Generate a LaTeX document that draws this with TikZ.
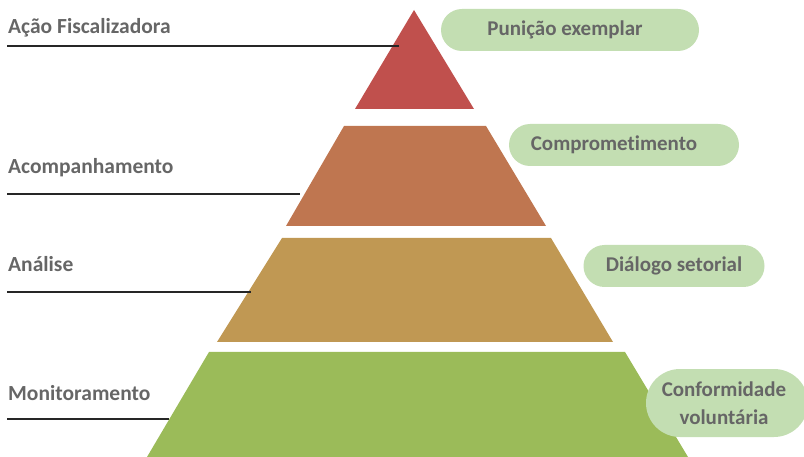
\documentclass[tikz,border=0pt]{standalone}
\usepackage{fontspec}
\setmainfont{Carlito}[Ligatures={NoCommon,NoRare}]
\usetikzlibrary{positioning}

\definecolor{tierred}{HTML}{C0504D}
\definecolor{tierorange}{HTML}{BF7650}
\definecolor{tierochre}{HTML}{C09853}
\definecolor{tiergreen}{HTML}{9BBB59}
\definecolor{pillgreen}{HTML}{C3DEB2}
\definecolor{labelgray}{HTML}{666666}

\begin{document}
\begin{tikzpicture}[x=1pt, y=-1pt,
    level/.style={anchor=west, inner sep=0pt, text=labelgray, font=\bfseries\fontsize{21.5}{24}\selectfont},
    pill/.style={fill=pillgreen, text=labelgray, rounded corners=21pt, minimum height=42pt, align=center, font=\bfseries\fontsize{21}{28}\selectfont},
    leader/.style={draw=black!85, line width=1.3pt}
]
\useasboundingbox (0,0) rectangle (804,457);

% Pyramid tiers
\fill[tierred]    (414,10)  -- (474,109) -- (355,109) -- cycle;
\fill[tierorange] (344,126) -- (486,126) -- (546,226) -- (286,226) -- cycle;
\fill[tierochre]  (282,238) -- (551,238) -- (613,342) -- (217,342) -- cycle;
\fill[tiergreen]  (209,352) -- (625,352) -- (688,457) -- (147,457) -- cycle;

% Levels on the left
\node[level] (acao) at (8,28) {Ação Fiscalizadora};
\node[level] (acomp) at (8,168) {Acompanhamento};
\node[level] (analise) at (8,264) {Análise};
\node[level] (monit) at (8,393) {Monitoramento};

% Underlines running into the tiers
\coordinate (acao-a) at (7,46);   \coordinate (acao-b) at (399,46);
\coordinate (acomp-a) at (7,194); \coordinate (acomp-b) at (300,194);
\coordinate (analise-a) at (7,292); \coordinate (analise-b) at (251,292);
\coordinate (monit-a) at (7,419); \coordinate (monit-b) at (169,419);
\draw[leader] (acao-a) -- (acao-b);
\draw[leader] (acomp-a) -- (acomp-b);
\draw[leader] (analise-a) -- (analise-b);
\draw[leader] (monit-a) -- (monit-b);

% Outcomes on the right
\node[pill, minimum width=258pt] (punicao) at (570,30) {Punição exemplar\hspace*{10pt}};
\node[pill, minimum width=230pt] (compromisso) at (624,145) {Comprometimento\hspace*{20pt}};
\node[pill, minimum width=181pt] (dialogo) at (674,266) {Diálogo setorial};
\node[pill, minimum width=162pt, minimum height=68pt, rounded corners=34pt] (conformidade) at (727,403) {Conformidade\hspace*{6pt}\\voluntária\hspace*{6pt}};

\end{tikzpicture}
\end{document}
